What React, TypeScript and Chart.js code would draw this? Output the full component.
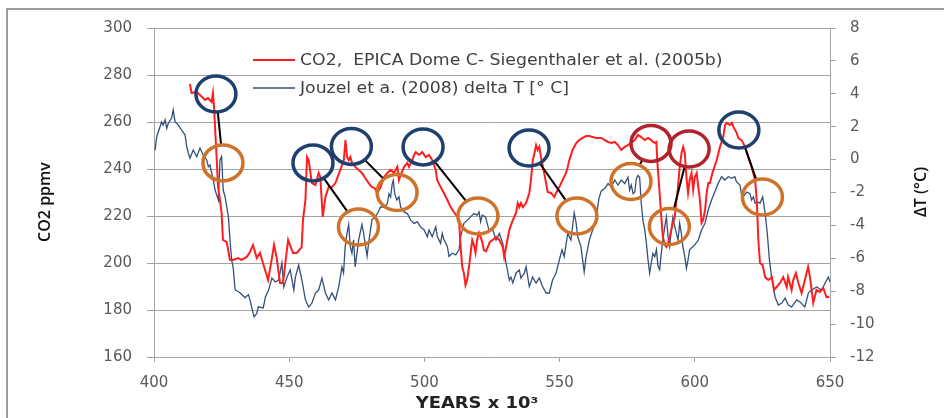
import React, { useEffect, useRef } from 'react';
import { Chart, registerables } from 'chart.js';

Chart.register(...registerables);

// ---------- DATA ----------
const co2Years = [
  413.3, 413.9, 415.8, 417.0, 418.9, 420.0, 421.3, 421.8, 422.2, 423.2, 423.7, 424.4, 425.0, 425.5, 426.9,
  428.1, 429.2, 431.1, 432.4, 434.3, 435.5, 436.6, 438.0, 439.2, 440.3, 442.2, 443.5, 444.4, 445.4, 446.6,
  447.7, 449.6, 451.4, 452.8, 454.6, 455.1, 456.0, 456.6, 457.2, 458.4, 459.7, 460.9, 461.5, 462.4, 463.4,
  464.6, 465.8, 467.1, 468.9, 470.2, 470.8, 471.4, 472.0, 472.6, 473.2, 474.4, 475.7, 476.9, 478.1, 479.4,
  480.6, 481.5, 482.6, 483.8, 485.1, 486.3, 487.5, 488.8, 490.0, 490.6, 491.2, 492.5, 493.7, 494.3, 495.5,
  496.2, 496.8, 498.0, 499.2, 500.5, 501.7, 502.9, 504.2, 504.7, 506.0, 507.2, 508.5, 509.7, 510.9, 512.2,
  512.8, 513.4, 514.0, 514.6, 515.2, 515.8, 516.5, 517.1, 517.7, 518.3, 518.9, 519.5, 520.2, 520.8, 521.4,
  522.0, 522.8, 524.2, 525.3, 526.5, 527.7, 529.0, 529.5, 530.2, 531.4, 532.7, 533.9, 534.5, 535.1, 535.7,
  536.4, 537.6, 538.8, 539.4, 540.1, 540.7, 541.3, 541.9, 542.5, 543.1, 544.3, 545.0, 545.6, 546.8, 548.1,
  548.7, 549.9, 551.1, 552.4, 553.0, 553.6, 554.8, 556.1, 557.3, 558.5, 559.8, 561.0, 562.2, 563.5, 565.4,
  566.7, 567.9, 569.1, 570.4, 571.6, 572.8, 574.1, 575.3, 576.5, 577.8, 579.0, 580.2, 581.5, 582.7, 583.9,
  584.5, 585.2, 585.8, 586.1, 587.0, 587.6, 588.2, 588.9, 589.5, 590.1, 590.7, 591.3, 591.9, 592.6, 593.2,
  593.8, 594.4, 595.1, 595.7, 596.3, 596.9, 597.5, 598.1, 598.8, 599.4, 600.0, 600.7, 601.3, 601.9, 602.5,
  603.1, 603.8, 604.4, 605.0, 605.6, 606.5, 608.1, 609.3, 610.5, 611.2, 611.8, 613.0, 613.7, 614.3, 615.5,
  616.1, 617.3, 618.6, 619.8, 621.0, 622.3, 622.9, 623.5, 624.1, 625.1, 626.0, 627.2, 628.5, 629.3, 630.3,
  631.5, 632.7, 634.0, 634.5, 635.8, 636.4, 637.4, 638.3, 639.5, 640.7, 641.9, 642.6, 643.8, 645.0, 646.3,
  647.5, 648.7, 649.7,
];
const co2Values = [
  276.2, 272.3, 272.8, 271.5, 269.4, 270.2, 268.5, 272.3, 266.4, 243.8, 232.3, 226.8, 221.3, 209.8, 208.9,
  201.3, 201.3, 202.1, 201.3, 202.6, 204.7, 207.7, 202.1, 204.3, 200.0, 192.8, 201.3, 207.7, 202.1, 191.5,
  191.5, 209.8, 204.3, 204.3, 206.8, 218.3, 226.8, 245.1, 243.8, 234.0, 233.2, 238.3, 236.6, 219.6, 228.1,
  232.3, 232.3, 234.0, 239.6, 243.8, 252.3, 245.1, 243.8, 245.1, 242.6, 240.9, 239.6, 238.3, 236.2, 234.0,
  232.3, 232.0, 229.8, 232.3, 236.6, 238.3, 239.6, 238.3, 240.9, 235.3, 237.4, 240.9, 242.6, 240.9, 243.8,
  246.0, 247.2, 246.0, 247.2, 245.1, 246.0, 243.8, 239.6, 235.3, 232.3, 229.8, 226.8, 223.8, 221.7, 219.6,
  218.3, 206.8, 198.3, 195.7, 190.6, 192.8, 198.3, 204.3, 209.8, 207.7, 204.3, 209.8, 212.8, 211.1, 208.9,
  205.5, 205.0, 209.0, 209.8, 211.1, 209.8, 206.8, 202.6, 206.8, 214.0, 218.3, 221.3, 225.5, 223.8, 225.5,
  223.8, 225.5, 229.8, 235.3, 243.8, 246.8, 250.2, 248.1, 249.4, 245.1, 238.3, 234.0, 230.2, 229.8, 228.1,
  229.8, 232.3, 235.3, 238.3, 240.9, 243.8, 248.1, 250.9, 252.3, 253.2, 254.0, 254.0, 253.6, 253.2, 253.2,
  252.3, 251.5, 251.1, 251.5, 250.2, 248.1, 249.4, 250.2, 251.1, 252.3, 254.5, 253.6, 252.3, 253.2, 252.3,
  251.5, 251.1, 251.5, 243.8, 229.8, 219.6, 211.1, 207.7, 206.8, 208.5, 211.1, 214.0, 217.0, 219.6, 226.8,
  232.3, 240.9, 246.8, 249.4, 246.8, 236.6, 229.8, 235.3, 238.3, 231.1, 236.6, 238.3, 232.3, 226.8, 217.0,
  218.3, 222.6, 229.8, 234.0, 234.0, 238.3, 243.8, 249.4, 253.6, 258.7, 259.6, 258.7, 259.6, 257.9, 255.3,
  253.2, 252.3, 249.4, 245.1, 240.9, 235.3, 226.8, 209.8, 200.0, 199.1, 194.0, 192.8, 194.0, 188.5, 189.8,
  191.5, 194.0, 189.8, 194.0, 188.5, 192.8, 195.7, 191.5, 187.2, 192.8, 198.3, 194.0, 183.0, 188.5, 187.7,
  189.4, 185.5, 185.5,
];

const tempYears = [
  400.4, 401.0, 401.6, 402.8, 403.4, 404.1, 404.7, 405.3, 406.5, 407.1, 407.8, 409.0, 410.2, 411.5, 412.1,
  412.7, 413.3, 414.5, 415.8, 417.0, 418.2, 419.5, 420.1, 420.7, 421.9, 422.6, 423.8, 424.4, 425.0, 425.6,
  426.3, 427.5, 428.1, 428.7, 429.3, 430.0, 431.8, 433.7, 434.9, 435.5, 436.1, 437.0, 438.0, 438.6, 440.4,
  441.2, 442.4, 443.6, 444.9, 446.1, 447.3, 448.0, 449.2, 450.4, 451.7, 452.3, 453.5, 454.7, 456.0, 457.2,
  458.4, 459.7, 460.9, 462.1, 463.4, 464.6, 465.8, 467.1, 468.3, 469.5, 470.1, 470.7, 471.4, 472.0, 472.6,
  473.2, 473.8, 474.4, 475.7, 476.9, 477.5, 478.8, 479.4, 480.6, 481.8, 482.6, 483.8, 485.1, 486.3, 486.9,
  487.5, 488.1, 488.5, 489.0, 489.8, 490.6, 491.2, 492.5, 493.7, 494.9, 496.2, 497.4, 498.6, 499.9, 501.1,
  501.7, 502.9, 504.2, 504.8, 506.0, 506.6, 507.2, 508.5, 509.1, 510.3, 511.6, 512.8, 513.4, 514.6, 515.9,
  517.1, 518.3, 519.5, 520.2, 520.8, 521.4, 522.6, 523.9, 525.3, 526.5, 527.7, 529.0, 529.5, 530.2, 531.4,
  532.0, 532.7, 533.9, 535.1, 535.7, 537.0, 537.6, 538.8, 540.0, 541.3, 542.5, 543.7, 545.0, 546.2, 547.4,
  548.7, 549.9, 550.9, 551.7, 553.0, 554.2, 555.4, 556.1, 556.7, 557.9, 559.1, 559.8, 561.0, 562.2, 563.5,
  564.5, 565.4, 566.7, 567.9, 569.1, 570.4, 571.6, 572.8, 574.1, 575.3, 575.9, 576.5, 577.2, 577.8, 578.4,
  579.0, 579.6, 580.2, 580.8, 581.5, 582.1, 582.7, 583.3, 583.9, 584.5, 585.2, 585.8, 586.4, 587.0, 587.6,
  588.2, 588.9, 589.5, 590.1, 590.7, 591.3, 591.9, 592.6, 593.8, 594.4, 595.0, 595.6, 596.3, 596.9, 597.5,
  598.1, 599.4, 600.6, 601.3, 602.5, 603.8, 605.0, 606.2, 607.2, 608.5, 609.9, 611.1, 612.4, 613.6, 614.8,
  615.4, 616.7, 617.3, 617.9, 619.2, 620.4, 621.0, 621.7, 622.3, 623.5, 624.1, 625.1, 626.0, 626.8, 627.6,
  628.4, 629.7, 630.9, 632.2, 633.4, 634.6, 635.8, 637.7, 638.9, 640.7, 642.0, 643.2, 645.1, 646.9, 648.2,
  649.4, 650.0,
];
const tempValues = [
  0.58, 1.40, 1.68, 2.29, 2.10, 2.41, 1.90, 2.21, 2.51, 3.02, 2.29, 2.10, 1.80, 1.49, 0.78,
  0.40, 0.08, 0.58, 0.18, 0.70, 0.28, -0.02, -0.43, -0.33, -1.24, -1.85, -2.46, -0.02, 0.18, -1.85,
  -2.26, -3.47, -4.87, -6.08, -6.59, -7.91, -8.09, -8.40, -8.21, -8.53, -8.95, -9.56, -9.35, -8.95, -9.02,
  -8.35, -7.93, -7.20, -7.44, -7.32, -6.28, -7.74, -7.14, -6.71, -7.93, -7.14, -6.41, -7.32, -8.53, -8.96,
  -8.72, -8.11, -7.93, -7.20, -8.11, -8.53, -8.11, -8.53, -7.74, -6.53, -6.89, -5.29, -4.46, -3.95, -5.29,
  -5.69, -4.87, -6.53, -4.87, -3.95, -4.46, -5.87, -5.05, -3.65, -3.47, -3.29, -2.88, -2.88, -2.68, -2.08,
  -2.28, -1.47, -1.26, -2.07, -2.46, -2.26, -2.88, -3.18, -3.28, -3.68, -3.88, -3.79, -4.09, -4.28, -4.69,
  -4.28, -4.69, -4.09, -4.69, -5.09, -4.49, -4.86, -5.29, -5.88, -5.69, -5.79, -5.47, -4.69, -3.87, -3.68,
  -3.48, -3.28, -3.38, -3.18, -3.78, -3.38, -3.48, -4.30, -4.28, -4.89, -4.49, -5.09, -5.68, -6.29, -7.32,
  -7.14, -7.50, -6.89, -6.71, -7.20, -6.89, -6.51, -7.72, -7.14, -7.50, -7.20, -7.72, -8.11, -8.11, -7.32,
  -6.89, -6.10, -5.49, -5.90, -4.49, -4.89, -3.24, -3.85, -4.69, -5.29, -6.83, -5.90, -4.89, -4.28, -3.67,
  -2.40, -1.90, -1.76, -1.46, -1.67, -1.24, -1.55, -1.24, -1.46, -1.07, -1.86, -1.55, -2.07, -1.97, -1.16,
  -0.96, -1.07, -2.65, -3.67, -4.28, -5.09, -6.10, -6.90, -6.30, -5.70, -5.90, -5.47, -6.49, -6.69, -5.70,
  -4.89, -4.07, -3.49, -4.69, -5.29, -4.28, -3.49, -4.07, -4.89, -3.87, -4.46, -5.29, -5.90, -6.61, -6.10,
  -5.47, -5.29, -5.05, -4.89, -4.28, -3.85, -3.05, -2.46, -2.05, -1.50, -1.04, -1.24, -1.04, -1.14, -1.04,
  -1.34, -1.55, -2.15, -2.27, -1.97, -2.07, -2.46, -2.27, -2.65, -2.59, -2.65, -2.27, -3.25, -4.46, -6.10,
  -7.14, -8.35, -8.84, -8.72, -8.42, -8.84, -8.96, -8.53, -8.65, -8.96, -8.11, -7.93, -7.74, -7.93, -7.50,
  -7.14, -7.44,
];

// Annotation circles: "peak" circles on the CO2 curve and their paired "response" circles (data units: year, ppmv)
const peakYears = [422.9, 458.8, 473.0, 499.5, 538.7, 583.8, 597.9, 616.3];
const peakCO2 = [271.9, 242.6, 249.6, 249.4, 248.9, 250.9, 248.5, 256.6];
const peakColors = ['#1f3f6f', '#1f3f6f', '#1f3f6f', '#1f3f6f', '#1f3f6f', '#b2222b', '#b2222b', '#1f3f6f'];
const respYears = [425.5, 475.6, 489.9, 519.8, 556.4, 576.4, 590.6, 625.0];
const respCO2 = [242.6, 215.3, 230.0, 220.0, 220.0, 234.7, 215.5, 228.1];
const respColor = '#d0732a';

const co2Label = 'CO2,  EPICA Dome C- Siegenthaler et al. (2005b)';
const tempLabel = 'Jouzel et a. (2008) delta T [° C]';
const xTitle = 'YEARS x 10³';
const yTitle = 'CO2 ppmv';
const y1Title = 'ΔT (°C)';

const CO2_COLOR = '#ff1e1e';
const TEMP_COLOR = '#34507a';
const GRID = '#a3a3a3';
const TICK_FONT = { family: 'DejaVu Sans', size: 15 };

const framePlugin = {
  id: 'frame',
  beforeDraw(chart: any) {
    const { ctx, width, height } = chart;
    ctx.save();
    ctx.fillStyle = '#ffffff';
    ctx.fillRect(0, 0, width, height);
    ctx.strokeStyle = '#9c9c9c';
    ctx.lineWidth = 2;
    ctx.beginPath();
    ctx.moveTo(7, height + 2);
    ctx.lineTo(7, 9);
    ctx.lineTo(width + 2, 9);
    ctx.stroke();
    ctx.restore();
  },
};

const annotationPlugin = {
  id: 'annot',
  afterDatasetsDraw(chart: any) {
    const { ctx } = chart;
    const xs = chart.scales.x;
    const ys = chart.scales.y;
    const rx = 20;
    const ry = 18;
    ctx.save();
    // connecting lines
    for (let i = 0; i < peakYears.length; i++) {
      const x1 = xs.getPixelForValue(peakYears[i]);
      const y1 = ys.getPixelForValue(peakCO2[i]);
      const x2 = xs.getPixelForValue(respYears[i]);
      const y2 = ys.getPixelForValue(respCO2[i]);
      const dx = x2 - x1;
      const dy = y2 - y1;
      const len = Math.hypot(dx, dy);
      const ux = dx / len;
      const uy = dy / len;
      const t = 1 / Math.sqrt((ux / rx) ** 2 + (uy / ry) ** 2);
      ctx.beginPath();
      ctx.moveTo(x1 + ux * t, y1 + uy * t);
      ctx.lineTo(x2 - ux * t, y2 - uy * t);
      ctx.strokeStyle = '#000000';
      ctx.lineWidth = 2;
      ctx.stroke();
    }
    const ring = (x: number, y: number, color: string) => {
      ctx.beginPath();
      ctx.ellipse(x, y, rx, ry, 0, 0, Math.PI * 2);
      ctx.strokeStyle = color;
      ctx.lineWidth = 3.5;
      ctx.stroke();
    };
    for (let i = 0; i < peakYears.length; i++) {
      ring(xs.getPixelForValue(peakYears[i]), ys.getPixelForValue(peakCO2[i]), peakColors[i]);
      ring(xs.getPixelForValue(respYears[i]), ys.getPixelForValue(respCO2[i]), respColor);
    }
    ctx.restore();
  },
  afterDraw(chart: any) {
    const { ctx } = chart;
    ctx.save();
    // legend
    const ds = chart.data.datasets;
    const rows = [60, 88];
    ds.forEach((d: any, i: number) => {
      ctx.beginPath();
      ctx.moveTo(253, rows[i]);
      ctx.lineTo(295, rows[i]);
      ctx.strokeStyle = d.borderColor;
      ctx.lineWidth = i === 0 ? 2 : 1.6;
      ctx.stroke();
      ctx.save();
      ctx.translate(300, rows[i] + 1);
      ctx.scale(1.08, 1);
      ctx.fillStyle = '#404040';
      ctx.font = '16px "DejaVu Sans"';
      ctx.textAlign = 'left';
      ctx.textBaseline = 'middle';
      ctx.fillText(d.label, 0, 0);
      ctx.restore();
    });
    // axis titles
    ctx.fillStyle = '#111111';
    ctx.font = '600 16px "Open Sans"';
    ctx.textAlign = 'center';
    ctx.textBaseline = 'middle';
    ctx.save();
    ctx.translate(45, 202);
    ctx.rotate(-Math.PI / 2);
    ctx.fillText(yTitle, 0, 0);
    ctx.restore();
    ctx.save();
    ctx.translate(921, 192);
    ctx.rotate(-Math.PI / 2);
    ctx.fillText(y1Title, 0, 0);
    ctx.restore();
    ctx.save();
    ctx.translate(477, 404);
    ctx.scale(1.12, 1);
    ctx.fillStyle = '#222222';
    ctx.font = 'bold 16px "DejaVu Sans"';
    ctx.fillText(xTitle, 0, 0);
    ctx.restore();
    ctx.restore();
  },
};

export default function App() {
  const ref = useRef<HTMLCanvasElement | null>(null);
  useEffect(() => {
    if (!ref.current) return;
    const co2Points = co2Years.map((x, i) => ({ x, y: co2Values[i] }));
    const tempPoints = tempYears.map((x, i) => ({ x, y: tempValues[i] }));
    const chart = new Chart(ref.current, {
      type: 'line',
      data: {
        datasets: [
          {
            label: co2Label,
            data: co2Points,
            yAxisID: 'y',
            borderColor: CO2_COLOR,
            borderWidth: 2,
            pointRadius: 0,
            tension: 0,
          },
          {
            label: tempLabel,
            data: tempPoints,
            yAxisID: 'y1',
            borderColor: TEMP_COLOR,
            borderWidth: 1.3,
            pointRadius: 0,
            tension: 0,
          },
        ],
      },
      options: {
        animation: false,
        responsive: false,
        devicePixelRatio: 1,
        parsing: false as any,
        layout: { padding: { top: 28, left: 0, right: 0, bottom: 0 } },
        plugins: { legend: { display: false }, tooltip: { enabled: false } },
        scales: {
          x: {
            type: 'linear',
            min: 400,
            max: 650,
            ticks: { stepSize: 50, color: '#595959', font: TICK_FONT, padding: 12, maxRotation: 0 },
            grid: { drawOnChartArea: false, drawTicks: true, tickLength: 5, color: GRID },
            border: { display: true, color: GRID },
            afterFit: (s: any) => {
              s.height = 61;
            },
          },
          y: {
            type: 'linear',
            position: 'left',
            min: 160,
            max: 300,
            ticks: { stepSize: 20, color: '#595959', font: TICK_FONT, padding: 15 },
            grid: { color: GRID, tickLength: 7 },
            border: { display: true, color: GRID },
            afterFit: (s: any) => {
              s.width = 154;
            },
          },
          y1: {
            type: 'linear',
            position: 'right',
            min: -12,
            max: 8,
            ticks: { stepSize: 2, color: '#595959', font: TICK_FONT, padding: 14 },
            grid: { drawOnChartArea: false, tickLength: 6, color: GRID },
            border: { display: true, color: GRID },
            afterFit: (s: any) => {
              s.width = 114;
            },
          },
        },
      },
      plugins: [framePlugin, annotationPlugin],
    } as any);
    return () => chart.destroy();
  }, []);
  return (
    <div style={{ position: 'absolute', left: 0, top: 0, width: 944, height: 418 }}>
      <canvas ref={ref} width={944} height={418} style={{ display: 'block' }} />
    </div>
  );
}
